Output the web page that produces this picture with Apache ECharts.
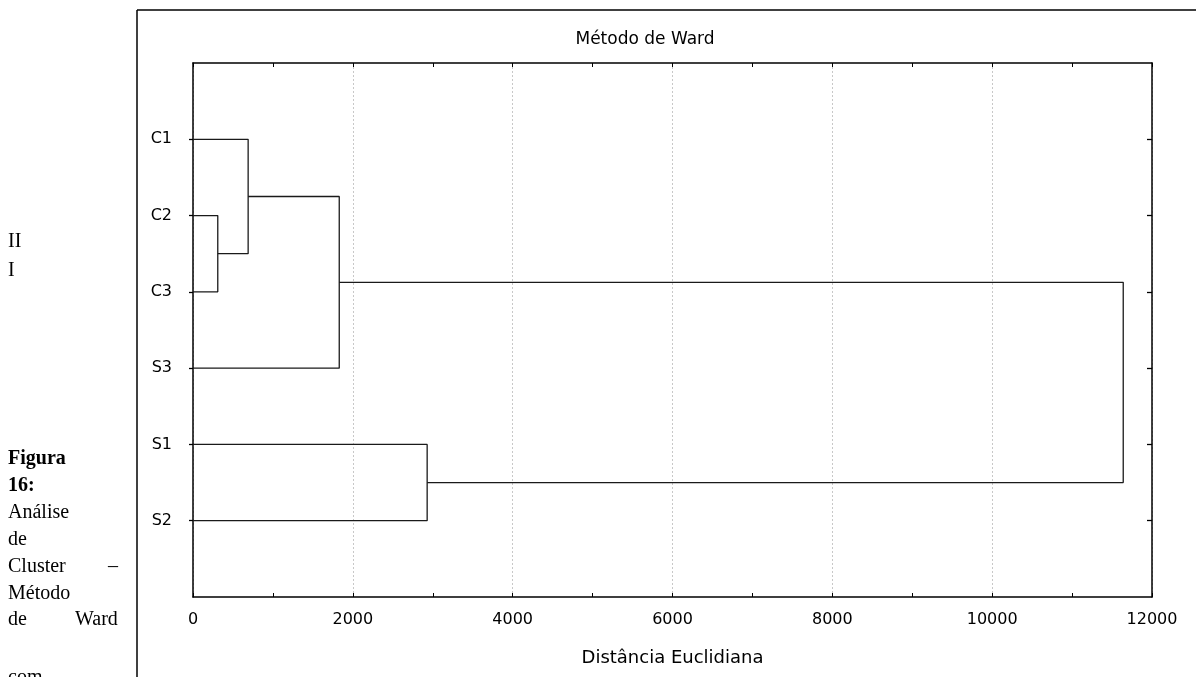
<!DOCTYPE html>
<html>
<head>
<meta charset="utf-8">
<script src="https://cdn.jsdelivr.net/npm/echarts@6/dist/echarts.min.js"></script>
<style>
html,body{margin:0;padding:0;background:#fff;}
#chart{width:1196px;height:677px;}
</style>
</head>
<body>
<div id="chart"></div>
<script>
// ---- data ----
const leaves = ['C1', 'C2', 'C3', 'S3', 'S1', 'S2'];
// merge steps: cluster A joined with cluster B at given linkage distance
const mergeA = ['C2', 'C1', 'G2', 'S1', 'G3'];
const mergeB = ['C3', 'G1', 'S3', 'S2', 'G4'];
const mergeHeight = [310, 690, 1830, 2930, 11640];
const xLabelTicks = [0, 2000, 4000, 6000, 8000, 10000, 12000];
const xMinorTicks = [0, 1000, 2000, 3000, 4000, 5000, 6000, 7000, 8000, 9000, 10000, 11000, 12000];
const titleText = 'Método de Ward';
const xAxisTitle = 'Distância Euclidiana';

// ---- build dendrogram link paths ----
const pos = {};
leaves.forEach((n, i) => { pos[n] = { x: 0, y: i }; });
const linkSeries = [];
mergeHeight.forEach((h, k) => {
  const a = pos[mergeA[k]], b = pos[mergeB[k]];
  linkSeries.push({
    type: 'line',
    xAxisIndex: 0, yAxisIndex: 0,
    data: [[a.x, a.y], [h, a.y], [h, b.y], [b.x, b.y]],
    showSymbol: false,
    symbol: 'none',
    silent: true,
    animation: false,
    lineStyle: { color: '#1a1a1a', width: 1.3 },
    z: 5
  });
  pos['G' + (k + 1)] = { x: h, y: (a.y + b.y) / 2 };
});
const leafIdx = leaves.map((_, i) => i);

const chart = echarts.init(document.getElementById('chart'), null, { renderer: 'canvas' });
const sans = 'DejaVu Sans, Liberation Sans, sans-serif';
const serif = 'Liberation Serif, Times New Roman, serif';
const axisLine = { show: true, onZero: false, lineStyle: { color: '#000', width: 1.5 } };

const serifText = (txt, x, yc, bold) => ({
  type: 'text', x: x, y: yc,
  style: { text: txt, font: (bold ? 'bold ' : '') + '20px ' + serif, fill: '#000', verticalAlign: 'middle' }
});

chart.setOption({
  animation: false,
  backgroundColor: '#fff',
  grid: { left: 193, right: 44, top: 63, bottom: 80, containLabel: false },
  xAxis: [
    {
      type: 'value', position: 'bottom', min: 0, max: 12000, interval: 2000,
      axisLine: axisLine,
      axisTick: { show: true, inside: true, length: 4, customValues: xMinorTicks, lineStyle: { color: '#000', width: 1 } },
      axisLabel: { show: true, customValues: xLabelTicks, margin: 15, color: '#000', fontFamily: sans, fontSize: 16,
        formatter: v => String(v) },
      splitLine: { show: false },
      name: xAxisTitle, nameLocation: 'middle', nameGap: 52,
      nameTextStyle: { color: '#000', fontFamily: sans, fontSize: 18 }
    },
    {
      type: 'value', position: 'top', min: 0, max: 12000, interval: 2000,
      axisLine: axisLine,
      axisTick: { show: true, inside: true, length: 4, customValues: xMinorTicks, lineStyle: { color: '#000', width: 1 } },
      axisLabel: { show: false },
      splitLine: { show: false }
    },
    {
      // hidden helper axis only for the dashed vertical grid lines every 2000
      type: 'value', position: 'bottom', min: 0, max: 12000, interval: 2000,
      axisLine: { show: false }, axisTick: { show: false }, axisLabel: { show: false },
      splitLine: { show: true, lineStyle: { color: '#c8c8c8', type: [2, 2], width: 1 } }
    }
  ],
  yAxis: [
    {
      type: 'value', position: 'left', min: -1, max: 6, interval: 1, inverse: true,
      axisLine: axisLine,
      axisTick: { show: true, inside: false, length: 4, customValues: leafIdx, lineStyle: { color: '#000', width: 1.3 } },
      axisLabel: {
        show: true, customValues: leafIdx, margin: 21, color: '#000', fontFamily: sans, fontSize: 16,
        formatter: v => leaves[Math.round(v)] || ''
      },
      splitLine: { show: false }
    },
    {
      type: 'value', position: 'right', min: -1, max: 6, interval: 1, inverse: true,
      axisLine: axisLine,
      axisTick: { show: true, inside: true, length: 5, customValues: leafIdx, lineStyle: { color: '#000', width: 1.3 } },
      axisLabel: { show: false },
      splitLine: { show: false }
    }
  ],
  series: linkSeries,
  graphic: [
    { type: 'line', shape: { x1: 137, y1: 10, x2: 137, y2: 677 }, style: { stroke: '#000', lineWidth: 1.5 } },
    { type: 'line', shape: { x1: 137, y1: 10, x2: 1196, y2: 10 }, style: { stroke: '#000', lineWidth: 1.5 } },
    { type: 'text', x: 645, y: 40, style: { text: titleText, font: '17px ' + sans, fill: '#000', align: 'center', verticalAlign: 'middle' } },
    serifText('II', 8, 242, false),
    serifText('I', 8, 271, false),
    serifText('Figura', 8, 459, true),
    serifText('16:', 8, 486, true),
    serifText('Análise', 8, 513, false),
    serifText('de', 8, 540, false),
    serifText('Cluster', 8, 567, false),
    serifText('–', 108, 567, false),
    serifText('Método', 8, 594, false),
    serifText('de', 8, 620, false),
    serifText('Ward', 75, 620, false),
    serifText('com', 8, 678, false)
  ]
});
</script>
</body>
</html>
